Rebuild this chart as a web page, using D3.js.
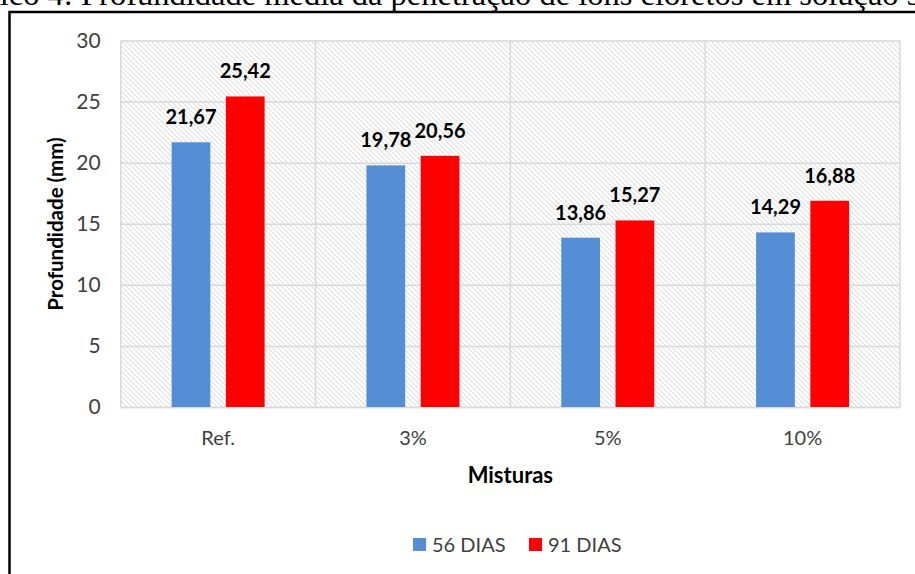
<!DOCTYPE html>
<html>
<head>
<meta charset="utf-8">
<script src="https://cdn.jsdelivr.net/npm/d3@7"></script>
<style>
  html, body { margin: 0; padding: 0; background: #fff; }
  svg { display: block; }
</style>
</head>
<body>
<svg id="chart" width="915" height="574"></svg>
<script>
// Mean chloride-ion penetration depth by mix and curing age
const categories = ["Ref.", "3%", "5%", "10%"];
const seriesNames = ["56 DIAS", "91 DIAS"];
const dias56 = [21.67, 19.78, 13.86, 14.29];
const dias91 = [25.42, 20.56, 15.27, 16.88];
const yTicks = [0, 5, 10, 15, 20, 25, 30];
const seriesColors = ["#558ed5", "#ff0000"];

const titleText = "Gráfico 4: Profundidade média da penetração de íons cloretos em solução salina";

const svg = d3.select("#chart");
const font = "Lato, 'Open Sans', sans-serif";

// Caption above the framed chart (runs off the page edges)
const title = svg.append("text")
  .attr("y", 5)
  .attr("font-family", "'Liberation Serif', 'Times New Roman', serif")
  .attr("font-size", 32.5)
  .attr("fill", "#000")
  .text(titleText);
// place so that the word "Profundidade" starts at x = 81
const prefixLen = title.node().getSubStringLength(0, titleText.indexOf("Profundidade"));
title.attr("x", 81 - prefixLen);

// Chart frame
svg.append("rect")
  .attr("x", 9.5).attr("y", 12)
  .attr("width", 1000).attr("height", 1000)
  .attr("fill", "#fff")
  .attr("stroke", "#000")
  .attr("stroke-width", 2.5);

// Hatched plot-area fill
const defs = svg.append("defs");
const pat = defs.append("pattern")
  .attr("id", "hatch")
  .attr("patternUnits", "userSpaceOnUse")
  .attr("width", 5).attr("height", 5);
pat.append("rect").attr("width", 5).attr("height", 5).attr("fill", "#fff");
pat.append("path")
  .attr("d", "M-1,-1 L6,6 M-1,4 L1,6 M4,-1 L6,1")
  .attr("stroke", "#e0e0e0")
  .attr("stroke-width", 1.1);

const plot = { left: 120.7, right: 900, top: 40.5, bottom: 407 };

const x0 = d3.scaleBand()
  .domain(categories)
  .range([plot.left, plot.right])
  .padding(0);

const groupW = 93;
const x1 = d3.scaleBand()
  .domain(seriesNames)
  .range([(x0.bandwidth() - groupW) / 2, (x0.bandwidth() + groupW) / 2])
  .paddingInner(0.286)
  .paddingOuter(0);

const y = d3.scaleLinear()
  .domain([0, 30])
  .range([plot.bottom, plot.top]);

svg.append("rect")
  .attr("x", plot.left).attr("y", plot.top)
  .attr("width", plot.right - plot.left)
  .attr("height", plot.bottom - plot.top)
  .attr("fill", "url(#hatch)");

// Horizontal gridlines + y tick labels
const yAxis = d3.axisLeft(y)
  .tickValues(yTicks)
  .tickSize(-(plot.right - plot.left))
  .tickPadding(20)
  .tickFormat(d3.format("d"));
const gy = svg.append("g")
  .attr("transform", `translate(${plot.left},0)`)
  .call(yAxis);
gy.select(".domain").remove();
gy.selectAll(".tick line").attr("stroke", "#d9d9d9").attr("stroke-width", 1.5);
gy.selectAll(".tick text")
  .attr("font-family", font)
  .attr("font-size", 21)
  .attr("fill", "#404040");

// Vertical category dividers
const bounds = categories.map(c => x0(c)).concat([plot.right]);
svg.append("g").selectAll("line")
  .data(bounds)
  .join("line")
  .attr("x1", d => d).attr("x2", d => d)
  .attr("y1", plot.top).attr("y2", plot.bottom)
  .attr("stroke", "#d9d9d9")
  .attr("stroke-width", 1.5);

// Category axis labels
const xAxis = d3.axisBottom(x0).tickSize(0).tickPadding(24);
const gx = svg.append("g")
  .attr("transform", `translate(0,${plot.bottom})`)
  .call(xAxis);
gx.select(".domain").attr("stroke", "#d9d9d9").attr("stroke-width", 1.5);
gx.selectAll(".tick text")
  .attr("font-family", font)
  .attr("font-size", 20)
  .attr("fill", "#404040");

// Bars
const rows = categories.map((c, i) => ({
  cat: c,
  vals: [
    { key: seriesNames[0], v: dias56[i], color: seriesColors[0] },
    { key: seriesNames[1], v: dias91[i], color: seriesColors[1] }
  ]
}));

const groups = svg.append("g").selectAll("g")
  .data(rows)
  .join("g")
  .attr("transform", d => `translate(${x0(d.cat)},0)`);

groups.selectAll("rect")
  .data(d => d.vals)
  .join("rect")
  .attr("x", d => x1(d.key))
  .attr("y", d => y(d.v))
  .attr("width", x1.bandwidth())
  .attr("height", d => y(0) - y(d.v))
  .attr("fill", d => d.color);

// Value labels
const fmt = v => v.toFixed(2).replace(".", ",");
groups.selectAll("text.val")
  .data(d => d.vals)
  .join("text")
  .attr("class", "val")
  .attr("x", d => x1(d.key) + x1.bandwidth() / 2)
  .attr("y", d => y(d.v) - 18)
  .attr("text-anchor", "middle")
  .attr("font-family", font)
  .attr("font-size", 20)
  .attr("font-weight", "bold")
  .attr("fill", "#000")
  .text(d => fmt(d.v));

// Axis titles
svg.append("text")
  .attr("x", (plot.left + plot.right) / 2)
  .attr("y", 483)
  .attr("text-anchor", "middle")
  .attr("font-family", font)
  .attr("font-size", 22)
  .attr("font-weight", "bold")
  .attr("fill", "#000")
  .text("Misturas");

svg.append("text")
  .attr("transform", "translate(63,224) rotate(-90)")
  .attr("text-anchor", "middle")
  .attr("font-family", font)
  .attr("font-size", 20.5)
  .attr("font-weight", "bold")
  .attr("fill", "#000")
  .text("Profundidade (mm)");

// Legend
const legend = svg.append("g");
const legendItems = [
  { name: seriesNames[0], color: seriesColors[0], x: 413 },
  { name: seriesNames[1], color: seriesColors[1], x: 529 }
];
const li = legend.selectAll("g")
  .data(legendItems)
  .join("g")
  .attr("transform", d => `translate(${d.x},538)`);
li.append("rect")
  .attr("width", 13).attr("height", 13)
  .attr("fill", d => d.color);
li.append("text")
  .attr("x", 19).attr("y", 14)
  .attr("font-family", font)
  .attr("font-size", 20)
  .attr("fill", "#404040")
  .text(d => d.name);
</script>
</body>
</html>
